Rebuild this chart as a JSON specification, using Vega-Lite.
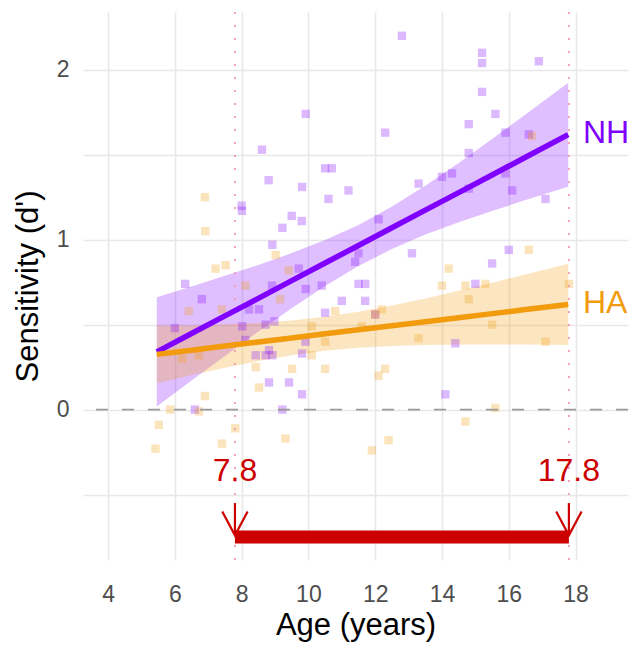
{
  "$schema": "https://vega.github.io/schema/vega-lite/v6.json",
  "autosize": "none",
  "width": 545,
  "height": 548,
  "padding": {"left": 83, "top": 12, "right": 4, "bottom": 85},
  "config": {
    "view": {"stroke": null},
    "font": "Liberation Sans",
    "axis": {"gridColor": "#e8e8e8", "gridWidth": 1.6, "domain": false, "ticks": false, "labelColor": "#4d4d4d", "labelFontSize": 23, "titleFontSize": 31, "titleFontWeight": "normal", "titleColor": "#000000", "labelFont": "Liberation Sans", "titleFont": "Liberation Sans"}
  },
  "datasets": {
    "pts": [
      {"g":"NH","age":9.92,"d":1.74},{"g":"NH","age":8.61,"d":1.53},{"g":"NH","age":10.5,"d":1.42},{"g":"NH","age":10.7,"d":1.42},
      {"g":"NH","age":8.81,"d":1.35},{"g":"NH","age":9.81,"d":1.31},{"g":"NH","age":11.2,"d":1.29},{"g":"NH","age":10.6,"d":1.24},
      {"g":"NH","age":8.0,"d":1.2},{"g":"NH","age":8.01,"d":1.17},{"g":"NH","age":9.5,"d":1.14},{"g":"NH","age":9.8,"d":1.11},
      {"g":"NH","age":9.22,"d":1.07},{"g":"NH","age":8.92,"d":0.97},{"g":"NH","age":12.8,"d":2.2},{"g":"NH","age":15.2,"d":2.1},
      {"g":"NH","age":15.2,"d":2.04},{"g":"NH","age":16.9,"d":2.05},{"g":"NH","age":15.2,"d":1.87},{"g":"NH","age":15.6,"d":1.74},
      {"g":"NH","age":12.3,"d":1.63},{"g":"NH","age":14.8,"d":1.68},{"g":"NH","age":15.9,"d":1.63},{"g":"NH","age":16.6,"d":1.62},
      {"g":"NH","age":14.8,"d":1.51},{"g":"NH","age":13.3,"d":1.33},{"g":"NH","age":14.0,"d":1.37},{"g":"NH","age":14.3,"d":1.39},
      {"g":"NH","age":14.8,"d":1.3},{"g":"NH","age":15.9,"d":1.39},{"g":"NH","age":16.1,"d":1.29},{"g":"NH","age":17.1,"d":1.24},
      {"g":"NH","age":12.1,"d":1.12},{"g":"NH","age":6.31,"d":0.74},{"g":"NH","age":9.71,"d":0.83},{"g":"NH","age":8.91,"d":0.73},
      {"g":"NH","age":6.81,"d":0.65},{"g":"NH","age":9.92,"d":0.71},{"g":"NH","age":10.4,"d":0.73},{"g":"NH","age":11.0,"d":0.64},
      {"g":"NH","age":11.4,"d":0.87},{"g":"NH","age":11.5,"d":0.92},{"g":"NH","age":8.52,"d":0.59},{"g":"NH","age":8.22,"d":0.59},
      {"g":"NH","age":10.5,"d":0.57},{"g":"NH","age":6.0,"d":0.48},{"g":"NH","age":8.02,"d":0.49},{"g":"NH","age":8.72,"d":0.5},
      {"g":"NH","age":8.98,"d":0.52},{"g":"NH","age":8.11,"d":0.41},{"g":"NH","age":9.91,"d":0.4},{"g":"NH","age":8.42,"d":0.32},
      {"g":"NH","age":8.72,"d":0.32},{"g":"NH","age":8.92,"d":0.32},{"g":"NH","age":8.82,"d":0.35},{"g":"NH","age":9.81,"d":0.33},
      {"g":"NH","age":8.82,"d":0.16},{"g":"NH","age":9.42,"d":0.16},{"g":"NH","age":9.81,"d":0.09},{"g":"NH","age":6.6,"d":0.0},
      {"g":"NH","age":9.22,"d":0.0},{"g":"NH","age":13.1,"d":0.92},{"g":"NH","age":11.5,"d":0.74},{"g":"NH","age":11.7,"d":0.74},
      {"g":"NH","age":11.7,"d":0.64},{"g":"NH","age":12.0,"d":0.56},{"g":"NH","age":14.4,"d":0.39},{"g":"NH","age":14.1,"d":0.09},
      {"g":"NH","age":16.0,"d":0.94},{"g":"NH","age":15.5,"d":0.86},{"g":"NH","age":15.0,"d":0.74},
      {"g":"HA","age":6.9,"d":1.25},{"g":"HA","age":6.91,"d":1.05},{"g":"HA","age":9.02,"d":0.91},{"g":"HA","age":7.22,"d":0.83},
      {"g":"HA","age":7.52,"d":0.85},{"g":"HA","age":8.11,"d":0.73},{"g":"HA","age":9.41,"d":0.82},{"g":"HA","age":6.42,"d":0.58},
      {"g":"HA","age":7.41,"d":0.59},{"g":"HA","age":9.15,"d":0.65},{"g":"HA","age":10.8,"d":0.58},{"g":"HA","age":10.1,"d":0.49},
      {"g":"HA","age":10.5,"d":0.4},{"g":"HA","age":6.22,"d":0.3},{"g":"HA","age":6.72,"d":0.32},{"g":"HA","age":10.1,"d":0.32},
      {"g":"HA","age":8.42,"d":0.25},{"g":"HA","age":9.51,"d":0.24},{"g":"HA","age":10.5,"d":0.24},{"g":"HA","age":8.52,"d":0.13},
      {"g":"HA","age":6.9,"d":0.08},{"g":"HA","age":5.86,"d":0.0},{"g":"HA","age":6.72,"d":-0.01},{"g":"HA","age":5.52,"d":-0.09},
      {"g":"HA","age":7.81,"d":-0.11},{"g":"HA","age":7.41,"d":-0.2},{"g":"HA","age":9.31,"d":-0.17},{"g":"HA","age":5.42,"d":-0.23},
      {"g":"HA","age":16.7,"d":1.61},{"g":"HA","age":14.2,"d":0.83},{"g":"HA","age":14.0,"d":0.73},{"g":"HA","age":12.0,"d":0.56},
      {"g":"HA","age":12.2,"d":0.59},{"g":"HA","age":11.6,"d":0.49},{"g":"HA","age":13.3,"d":0.42},{"g":"HA","age":12.1,"d":0.2},
      {"g":"HA","age":12.3,"d":0.24},{"g":"HA","age":12.4,"d":-0.18},{"g":"HA","age":11.9,"d":-0.24},{"g":"HA","age":16.6,"d":0.94},
      {"g":"HA","age":14.7,"d":0.73},{"g":"HA","age":15.3,"d":0.74},{"g":"HA","age":14.8,"d":0.65},{"g":"HA","age":17.8,"d":0.74},
      {"g":"HA","age":15.5,"d":0.5},{"g":"HA","age":17.1,"d":0.4},{"g":"HA","age":15.6,"d":0.01},{"g":"HA","age":14.7,"d":-0.07}
    ],
    "fit": [
      {"g":"NH","age":5.46,"fit":0.34,"lo":0.018,"hi":0.662},
      {"g":"NH","age":6.5,"fit":0.448,"lo":0.171,"hi":0.725},
      {"g":"NH","age":7.5,"fit":0.552,"lo":0.316,"hi":0.788},
      {"g":"NH","age":8.5,"fit":0.655,"lo":0.459,"hi":0.851},
      {"g":"NH","age":9.5,"fit":0.759,"lo":0.597,"hi":0.921},
      {"g":"NH","age":10.5,"fit":0.863,"lo":0.728,"hi":0.998},
      {"g":"NH","age":11.5,"fit":0.966,"lo":0.845,"hi":1.087},
      {"g":"NH","age":12.5,"fit":1.07,"lo":0.945,"hi":1.195},
      {"g":"NH","age":13.5,"fit":1.174,"lo":1.03,"hi":1.318},
      {"g":"NH","age":14.5,"fit":1.277,"lo":1.102,"hi":1.452},
      {"g":"NH","age":15.5,"fit":1.381,"lo":1.169,"hi":1.593},
      {"g":"NH","age":16.5,"fit":1.485,"lo":1.233,"hi":1.737},
      {"g":"NH","age":17.78,"fit":1.618,"lo":1.312,"hi":1.924},
      {"g":"HA","age":5.46,"fit":0.325,"lo":0.155,"hi":0.495},
      {"g":"HA","age":6.5,"fit":0.35,"lo":0.203,"hi":0.497},
      {"g":"HA","age":7.5,"fit":0.374,"lo":0.247,"hi":0.501},
      {"g":"HA","age":8.5,"fit":0.398,"lo":0.286,"hi":0.51},
      {"g":"HA","age":9.5,"fit":0.422,"lo":0.32,"hi":0.524},
      {"g":"HA","age":10.5,"fit":0.446,"lo":0.346,"hi":0.546},
      {"g":"HA","age":11.5,"fit":0.47,"lo":0.364,"hi":0.576},
      {"g":"HA","age":12.5,"fit":0.494,"lo":0.375,"hi":0.613},
      {"g":"HA","age":13.5,"fit":0.517,"lo":0.38,"hi":0.654},
      {"g":"HA","age":14.5,"fit":0.541,"lo":0.383,"hi":0.699},
      {"g":"HA","age":15.5,"fit":0.565,"lo":0.383,"hi":0.747},
      {"g":"HA","age":16.5,"fit":0.589,"lo":0.383,"hi":0.795},
      {"g":"HA","age":17.78,"fit":0.619,"lo":0.38,"hi":0.858}
    ],
    "arrows": [
      {"id":"s1","o":1,"age":7.8,"d":-0.55},{"id":"s1","o":2,"age":7.8,"d":-0.74},
      {"id":"h1","o":1,"age":7.42,"d":-0.6},{"id":"h1","o":2,"age":7.8,"d":-0.74},{"id":"h1","o":3,"age":8.18,"d":-0.6},
      {"id":"s2","o":1,"age":17.8,"d":-0.55},{"id":"s2","o":2,"age":17.8,"d":-0.74},
      {"id":"h2","o":1,"age":17.42,"d":-0.6},{"id":"h2","o":2,"age":17.8,"d":-0.74},{"id":"h2","o":3,"age":18.18,"d":-0.6}
    ],
    "bounds": [{"age":7.8,"label":"7.8","d":-0.36},{"age":17.8,"label":"17.8","d":-0.36}],
    "glabels": [{"g":"NH","age":18.22,"d":1.63},{"g":"HA","age":18.22,"d":0.63}]
  },
  "layer": [
    {
      "data": {"name": "fit"},
      "mark": {"type": "area", "opacity": 0.25},
      "encoding": {
        "x": {"field": "age", "type": "quantitative", "scale": {"domain": [3.25, 19.57], "nice": false, "zero": false},
          "axis": {"values": [4,5,6,7,8,9,10,11,12,13,14,15,16,17,18,19], "labelExpr": "datum.value % 2 == 0 ? datum.label : ''", "labelPadding": 23, "title": "Age (years)", "titlePadding": 4}},
        "y": {"field": "lo", "type": "quantitative", "scale": {"domain": [-0.885, 2.34], "nice": false, "zero": false},
          "axis": {"values": [-0.5, 0, 0.5, 1, 1.5, 2], "labelExpr": "datum.value % 1 == 0 ? format(datum.value, 'd') : ''", "labelPadding": 14, "title": "Sensitivity (d')", "titlePadding": 12}},
        "y2": {"field": "hi"},
        "color": {"field": "g", "type": "nominal", "scale": {"domain": ["NH","HA"], "range": ["#8000FF","#F29B0C"]}, "legend": null}
      }
    },
    {
      "data": {"name": "pts"},
      "mark": {"type": "point", "shape": "square", "filled": true, "size": 70, "opacity": 0.28},
      "encoding": {
        "x": {"field": "age", "type": "quantitative"},
        "y": {"field": "d", "type": "quantitative"},
        "color": {"field": "g", "type": "nominal"}
      }
    },
    {
      "data": {"values": [{"age": 7.8}, {"age": 17.8}]},
      "mark": {"type": "rule", "color": "#f2a3b3", "strokeWidth": 2, "strokeDash": [2, 11]},
      "encoding": {"x": {"field": "age", "type": "quantitative"}}
    },
    {
      "data": {"values": [{"d": 0}]},
      "mark": {"type": "rule", "color": "#9a9a9a", "strokeWidth": 1.8, "strokeDash": [12, 14]},
      "encoding": {"y": {"field": "d", "type": "quantitative"}}
    },
    {
      "data": {"name": "fit"},
      "mark": {"type": "line", "strokeWidth": 5.5},
      "encoding": {
        "x": {"field": "age", "type": "quantitative"},
        "y": {"field": "fit", "type": "quantitative"},
        "color": {"field": "g", "type": "nominal"}
      }
    },
    {
      "data": {"name": "glabels"},
      "mark": {"type": "text", "align": "left", "baseline": "middle", "fontSize": 32, "font": "Liberation Sans"},
      "encoding": {
        "x": {"field": "age", "type": "quantitative"},
        "y": {"field": "d", "type": "quantitative"},
        "text": {"field": "g"},
        "color": {"field": "g", "type": "nominal"}
      }
    },
    {
      "data": {"values": [{"a": 7.8, "b": 17.8, "d": -0.75}]},
      "mark": {"type": "rule", "color": "#CC0000", "strokeWidth": 13, "strokeCap": "butt"},
      "encoding": {
        "x": {"field": "a", "type": "quantitative"},
        "x2": {"field": "b"},
        "y": {"field": "d", "type": "quantitative"}
      }
    },
    {
      "data": {"name": "arrows"},
      "mark": {"type": "line", "color": "#CC0000", "strokeWidth": 2.2},
      "encoding": {
        "x": {"field": "age", "type": "quantitative"},
        "y": {"field": "d", "type": "quantitative"},
        "detail": {"field": "id"},
        "order": {"field": "o"}
      }
    },
    {
      "data": {"name": "bounds"},
      "mark": {"type": "text", "color": "#CC0000", "fontSize": 32, "baseline": "middle", "align": "center", "font": "Liberation Sans"},
      "encoding": {
        "x": {"field": "age", "type": "quantitative"},
        "y": {"field": "d", "type": "quantitative"},
        "text": {"field": "label"}
      }
    }
  ]
}
